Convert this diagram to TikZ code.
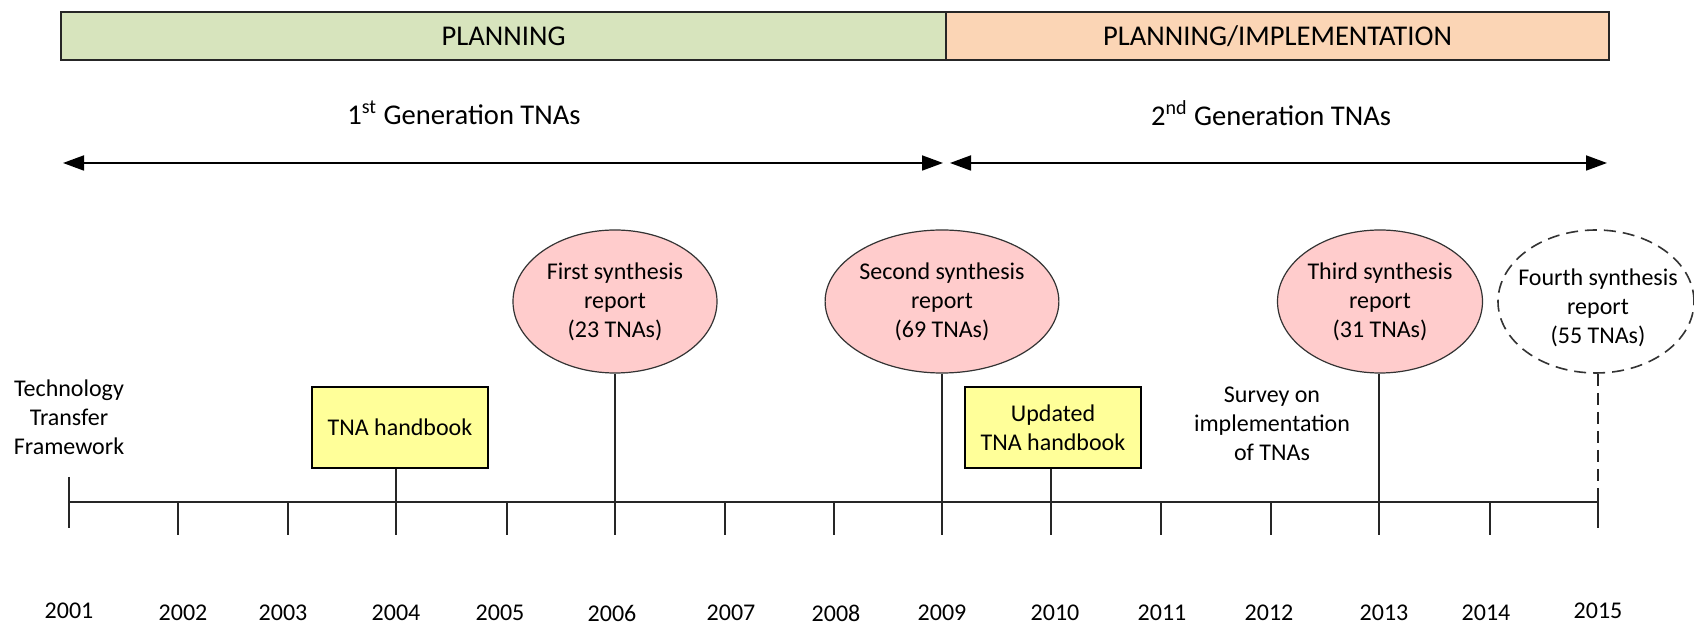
\documentclass[tikz,border=0pt]{standalone}
\usepackage{fontspec}
\setmainfont{Carlito}
\usetikzlibrary{shapes.geometric,arrows.meta}
\definecolor{plangreen}{HTML}{D7E4BD}
\definecolor{implorange}{HTML}{FBD5B5}
\definecolor{reppink}{HTML}{FFCCCC}
\definecolor{hbyellow}{HTML}{FFFF99}
\newcommand\bodyfont{\fontsize{12}{14.5}\selectfont}
\newcommand\bigfont{\fontsize{14.3}{17}\selectfont}
\begin{document}
\begin{tikzpicture}[x=0.5pt,y=-0.5pt,
  phase/.style={draw=black!85,line width=1pt,minimum height=24pt,inner sep=0pt,font=\bigfont},
  gen/.style={inner sep=0pt,font=\bigfont},
  genarrow/.style={line width=0.9pt,{Triangle[length=10.5pt,width=7.5pt]}-{Triangle[length=10.5pt,width=7.5pt]}},
  report/.style={ellipse,draw=black!80,line width=0.6pt,fill=reppink,minimum width=102pt,minimum height=71.5pt,inner sep=0pt,align=center,font=\bodyfont},
  future/.style={ellipse,draw=black!80,line width=0.8pt,dash pattern=on 6pt off 3.5pt,fill=white,minimum width=98pt,minimum height=71.5pt,inner sep=0pt},
  hbox/.style={rectangle,draw=black,line width=1.2pt,fill=hbyellow,minimum width=88pt,minimum height=40.5pt,inner sep=0pt,align=center,font=\bodyfont},
  txt/.style={inner sep=0pt,align=center,font=\bodyfont},
  yearlbl/.style={inner sep=0pt,font=\bodyfont},
  axis/.style={line width=1pt,black!85},
  tickmark/.style={line width=1pt,black!85},
  stem/.style={line width=1pt,black!85},
  dstem/.style={line width=1pt,black!85,dash pattern=on 6pt off 3.5pt}
]
\useasboundingbox (0,0) rectangle (1694,624);

% phase bar
\node[phase,fill=plangreen,minimum width=442.5pt] (plan) at (503.5,36) {PLANNING};
\node[phase,fill=implorange,minimum width=331.5pt] (impl) at (1277.5,36) {PLANNING/IMPLEMENTATION};

% generations
\node[gen] (gen1) at (464,113) {1\textsuperscript{st} Generation TNAs};
\node[gen] (gen2) at (1271,113) {2\textsuperscript{nd} Generation TNAs};
\coordinate (g1l) at (63,163);
\coordinate (g1r) at (943,163);
\coordinate (g2l) at (950,163);
\coordinate (g2r) at (1607,163);
\draw[genarrow] (g1l) -- (g1r);
\draw[genarrow] (g2l) -- (g2r);

% timeline coordinates
\foreach \yr/\tx in {2001/69,2002/178,2003/288,2004/396,2005/507,2006/615,2007/725,2008/834,2009/942,2010/1051,2011/1161,2012/1271,2013/1379,2014/1490,2015/1598}
  \coordinate (t\yr) at (\tx,502);

\draw[axis] (t2001) -- (t2015);
\foreach \yr in {2002,2003,2004,2005,2006,2007,2008,2009,2010,2011,2012,2013,2014}
  \draw[tickmark] (t\yr) -- ++(0,33);
\draw[tickmark] ([yshift=12.5pt]t2001) -- ([yshift=-13pt]t2001);
\draw[tickmark] ([yshift=5pt]t2015) -- ([yshift=-13pt]t2015);

% year labels
\foreach \yr/\lx/\ly in {2001/69/611,2002/183/613,2003/283/613,2004/396/613,2005/500/613,2006/612/613,2007/731/613,2008/836/613,2009/942/613,2010/1055/613,2011/1162/613,2012/1269/613,2013/1384/613,2014/1486/613,2015/1598/611}
  \node[yearlbl] (yr\yr) at (\lx,\ly) {\yr};

% events
\node[txt] (ttf) at (69,417) {Technology\\Transfer\\Framework};
\node[hbox] (hb1) at (400,427.5) {TNA handbook};
\node[hbox] (hb2) at (1053,427.5) {Updated\\TNA handbook};
\node[txt] (survey) at (1272,424) {Survey on\\implementation\\of TNAs};

\node[report] (e1) at (615,301.5) {First synthesis\\report\\(23 TNAs)};
\node[report] (e2) at (942,301.5) {Second synthesis\\report\\(69 TNAs)};
\node[report] (e3) at (1380,301.5) {Third synthesis\\report\\(31 TNAs)};
\node[future] (e4) at (1596,301.5) {};
\node[txt] (e4t) at (1598,308) {Fourth synthesis\\report\\(55 TNAs)};

% stems
\draw[stem] (hb1.south -| t2004) -- (t2004);
\draw[stem] (hb2.south -| t2010) -- (t2010);
\draw[stem] (e1.south -| t2006) -- (t2006);
\draw[stem] (e2.south -| t2009) -- (t2009);
\draw[stem] (e3.south -| t2013) -- (t2013);
\draw[dstem] (e4.south -| t2015) -- ([yshift=5pt]t2015);
\end{tikzpicture}
\end{document}
